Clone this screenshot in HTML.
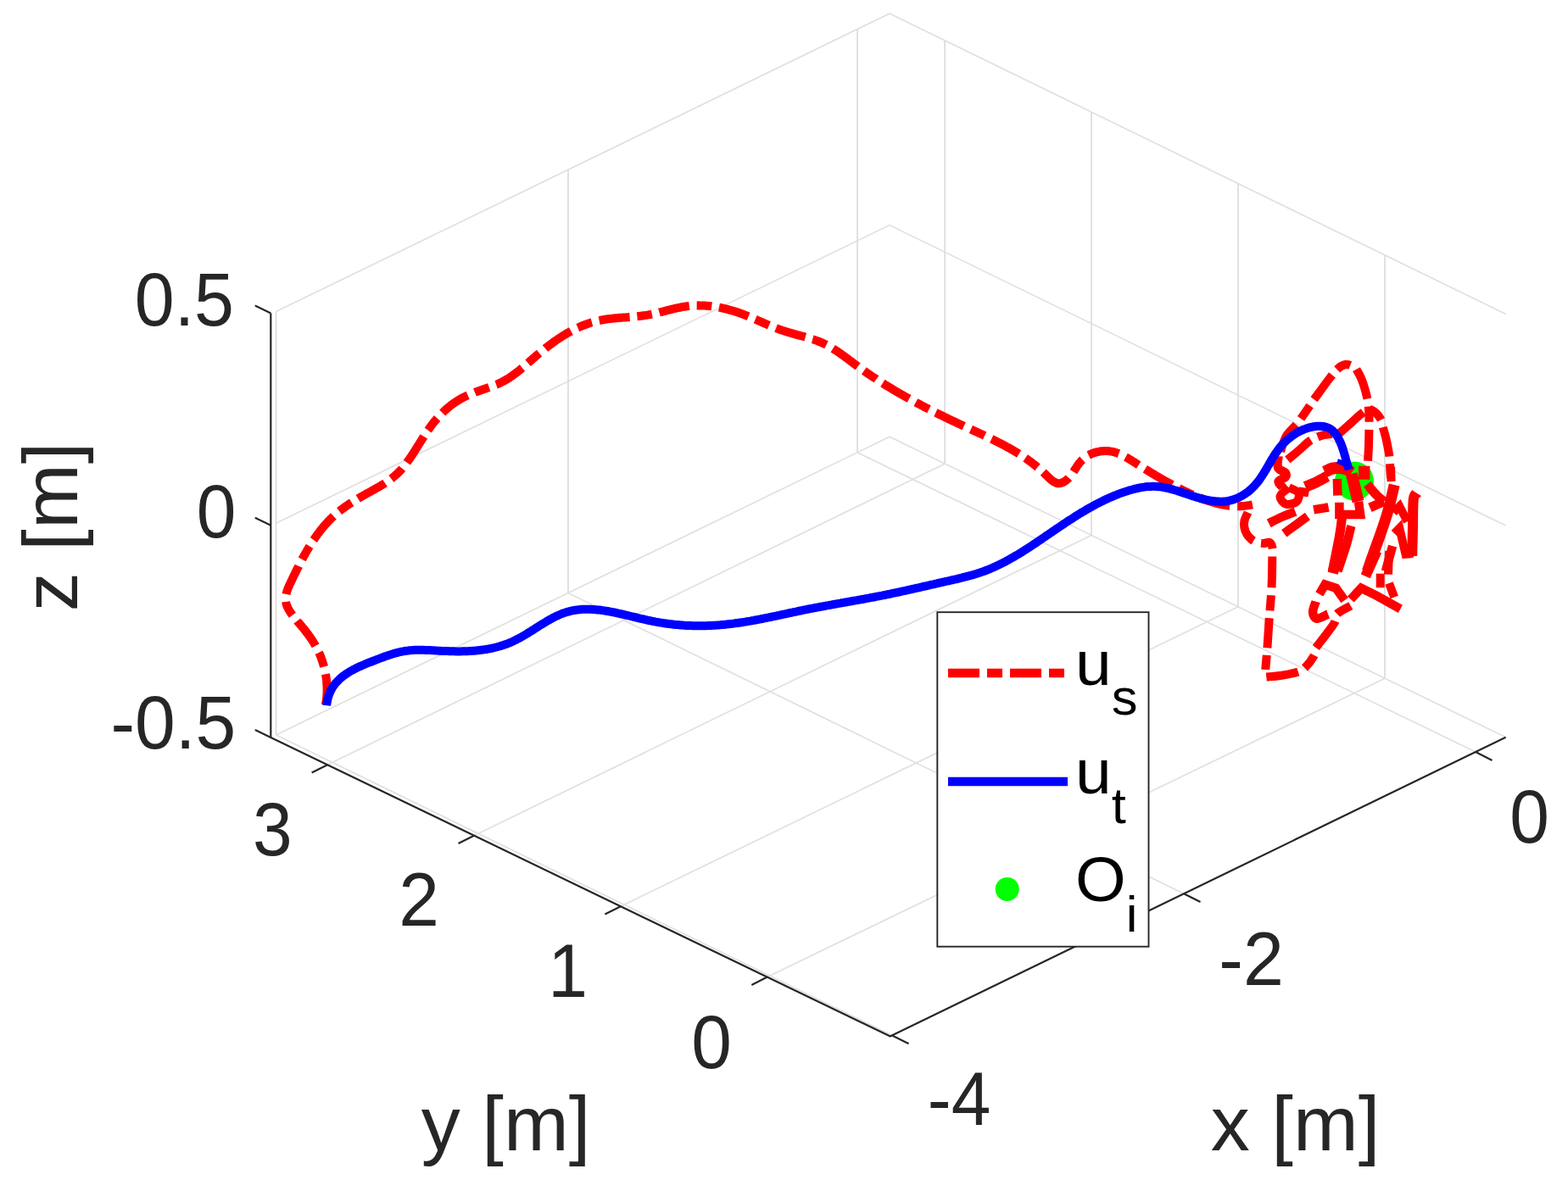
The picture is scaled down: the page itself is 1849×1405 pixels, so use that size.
<!DOCTYPE html>
<html lang="en">
<head>
<meta charset="utf-8">
<title>Trajectories u_s, u_t and O_i</title>
<style>
html,body{margin:0;padding:0;background:#ffffff;overflow:hidden}
svg{display:block}
text{font-family:"Liberation Sans","DejaVu Sans",sans-serif;}
</style>
</head>
<body>
<svg width="1849" height="1405" viewBox="0 0 1849 1405">
<rect x="0" y="0" width="1849" height="1405" fill="#ffffff"/>
<g id="grid">
<polyline fill="none" stroke="#e0e0e0" stroke-width="1.7" points="325.5,866.9 1049.0,515.3 1775.6,869.8"/>
<polyline fill="none" stroke="#e0e0e0" stroke-width="1.7" points="325.5,617.2 1049.0,265.6 1775.6,620.1"/>
<polyline fill="none" stroke="#e0e0e0" stroke-width="1.7" points="325.5,367.6 1049.0,16.0 1775.6,370.5"/>
<line x1="325.5" y1="866.9" x2="325.5" y2="367.6" stroke="#dcdcdc" stroke-width="1.7" />
<line x1="670.0" y1="699.5" x2="670.0" y2="200.2" stroke="#dcdcdc" stroke-width="1.7" />
<line x1="1011.0" y1="533.8" x2="1011.0" y2="34.5" stroke="#dcdcdc" stroke-width="1.7" />
<line x1="1114.2" y1="547.1" x2="1114.2" y2="47.8" stroke="#dcdcdc" stroke-width="1.7" />
<line x1="1287.0" y1="631.4" x2="1287.0" y2="132.1" stroke="#dcdcdc" stroke-width="1.7" />
<line x1="1460.0" y1="715.8" x2="1460.0" y2="216.5" stroke="#dcdcdc" stroke-width="1.7" />
<line x1="1633.0" y1="800.2" x2="1633.0" y2="300.9" stroke="#dcdcdc" stroke-width="1.7" />
<line x1="325.5" y1="866.9" x2="1052.0" y2="1221.5" stroke="#e0e0e0" stroke-width="1.7" />
<line x1="670.0" y1="699.5" x2="1396.0" y2="1054.3" stroke="#e0e0e0" stroke-width="1.7" />
<line x1="1011.0" y1="533.8" x2="1740.0" y2="887.1" stroke="#e0e0e0" stroke-width="1.7" />
<line x1="386.1" y1="902.2" x2="1114.2" y2="547.1" stroke="#e0e0e0" stroke-width="1.7" />
<line x1="559.0" y1="985.7" x2="1287.0" y2="631.4" stroke="#e0e0e0" stroke-width="1.7" />
<line x1="731.9" y1="1069.2" x2="1460.0" y2="715.8" stroke="#e0e0e0" stroke-width="1.7" />
<line x1="904.8" y1="1152.6" x2="1633.0" y2="800.2" stroke="#e0e0e0" stroke-width="1.7" />
</g>
<g id="axes" stroke-linecap="butt">
<line x1="319.3" y1="369.4" x2="319.3" y2="870.8" stroke="#262626" stroke-width="2.2" />
<polyline fill="none" stroke="#262626" stroke-width="2.2" stroke-linejoin="miter" points="319.3,870.0 1049.7,1222.6 1775.6,869.8"/>
<line x1="319.3" y1="870.0" x2="300.8" y2="861.1" stroke="#262626" stroke-width="2.2" />
<line x1="319.3" y1="619.7" x2="300.8" y2="610.8" stroke="#262626" stroke-width="2.2" />
<line x1="319.3" y1="369.4" x2="300.8" y2="360.5" stroke="#262626" stroke-width="2.2" />
<line x1="386.1" y1="902.2" x2="367.6" y2="911.5" stroke="#262626" stroke-width="2.2" />
<line x1="559.0" y1="985.7" x2="540.5" y2="995.0" stroke="#262626" stroke-width="2.2" />
<line x1="731.9" y1="1069.2" x2="713.4" y2="1078.5" stroke="#262626" stroke-width="2.2" />
<line x1="904.8" y1="1152.6" x2="886.3" y2="1161.9" stroke="#262626" stroke-width="2.2" />
<line x1="1052.0" y1="1221.5" x2="1071.5" y2="1231.3" stroke="#262626" stroke-width="2.2" />
<line x1="1396.0" y1="1054.3" x2="1415.5" y2="1064.1" stroke="#262626" stroke-width="2.2" />
<line x1="1740.0" y1="887.1" x2="1759.5" y2="896.9" stroke="#262626" stroke-width="2.2" />
</g>
<g id="curves">
<circle cx="1597.0" cy="567.5" r="23" fill="#00ff00"/>
<path d="M383.8,831.5L384.1,830.0L384.4,828.5L384.6,827.1L384.8,825.6L385.0,824.1L385.2,822.6L385.3,821.1L385.4,819.6L385.5,818.1L385.6,816.6L385.6,815.1L385.6,813.6L385.6,812.1L385.6,810.6L385.5,809.1L385.4,807.6L385.3,806.1L385.2,804.6L385.1,803.1L384.9,801.6L384.7,800.1L384.5,798.6L384.3,797.2L384.0,795.7L383.7,794.2L383.5,792.7L383.1,791.3L382.8,789.8L382.5,788.3L382.1,786.9L381.7,785.4L381.3,784.0L380.9,782.5L380.4,781.1L380.0,779.7L379.5,778.3L379.0,776.9L378.5,775.4L377.9,774.0L377.4,772.7L376.8,771.3L376.2,769.9L375.5,768.5L374.9,767.2L374.2,765.8L373.5,764.5L372.8,763.2L372.1,761.9L371.4,760.6L370.6,759.3L369.8,758.0L369.0,756.7L368.2,755.4L367.4,754.2L366.6,752.9L365.7,751.7L364.8,750.5L364.0,749.3L363.1,748.1L362.2,746.9L361.3,745.7L360.3,744.5L359.4,743.3L358.5,742.1L357.5,741.0L356.6,739.8L355.6,738.7L354.6,737.5L353.7,736.4L352.7,735.2L351.7,734.1L350.7,733.0L349.8,731.8L348.8,730.7L347.8,729.5L346.9,728.3L346.0,727.2L345.1,726.0L344.2,724.8L343.3,723.5L342.4,722.3L341.6,721.0L340.9,719.8L340.1,718.4L339.4,717.1L338.8,715.7L338.2,714.4L337.8,712.9L337.4,711.5L337.1,710.0L336.9,708.5L336.8,707.0L336.8,705.5L337.0,704.0L337.2,702.5L337.5,701.1L337.8,699.6L338.2,698.2L338.7,696.7L339.2,695.3L339.7,693.9L340.3,692.5L340.9,691.2L341.5,689.8L342.1,688.4L342.8,687.1L343.4,685.7L344.1,684.4L344.7,683.0L345.3,681.7L346.0,680.3L346.6,678.9L347.3,677.6L348.0,676.2L348.6,674.9L349.3,673.5L349.9,672.2L350.6,670.9L351.3,669.5L352.0,668.2L352.6,666.8L353.3,665.5L354.0,664.2L354.7,662.8L355.4,661.5L356.1,660.2L356.8,658.9L357.5,657.5L358.2,656.2L359.0,654.9L359.7,653.6L360.4,652.3L361.2,651.0L361.9,649.7L362.7,648.4L363.4,647.1L364.2,645.8L365.0,644.5L365.8,643.2L366.6,642.0L367.4,640.7L368.2,639.4L369.0,638.2L369.8,636.9" pathLength="219.00" fill="none" stroke="#ff0000" stroke-width="10" stroke-dasharray="37 9 18 9" stroke-linejoin="round"/>
<path d="M369.8,636.9L370.7,635.7L371.5,634.5L372.4,633.2L373.3,632.0L374.1,630.8L375.0,629.6L375.9,628.4L376.8,627.2L377.7,626.0L378.7,624.8L379.6,623.6L380.6,622.5L381.5,621.3L382.5,620.2L383.5,619.0L384.5,617.9L385.5,616.8L386.5,615.7L387.5,614.6L388.6,613.5L389.6,612.5L390.7,611.4L391.8,610.4L392.9,609.3L394.0,608.3L395.1,607.3L396.2,606.3L397.4,605.4L398.5,604.4L399.7,603.4L400.9,602.5L402.0,601.6L403.2,600.7L404.4,599.8L405.7,598.9L406.9,598.0L408.1,597.2L409.3,596.3L410.6,595.5L411.8,594.6L413.1,593.8L414.3,593.0L415.6,592.2L416.9,591.4L418.2,590.6L419.4,589.8L420.7,589.1L422.0,588.3L423.3,587.5L424.6,586.8L425.9,586.0L427.2,585.3L428.5,584.5L429.8,583.8L431.1,583.1L432.4,582.3L433.8,581.6L435.1,580.9L436.4,580.2L437.7,579.4L439.0,578.7L440.3,578.0L441.6,577.2L442.9,576.5L444.3,575.8L445.6,575.0L446.9,574.3L448.1,573.5L449.4,572.7L450.7,572.0L452.0,571.2L453.3,570.4L454.5,569.6L455.8,568.7L457.0,567.9L458.2,567.0L459.5,566.2L460.7,565.3L461.9,564.4L463.0,563.4L464.2,562.5L465.4,561.5L466.5,560.5L467.6,559.5L468.7,558.5L469.8,557.4L470.8,556.4L471.8,555.3L472.9,554.2L473.9,553.0L474.8,551.9L475.8,550.8L476.8,549.6L477.7,548.4L478.6,547.2L479.5,546.1L480.4,544.8L481.3,543.6L482.2,542.4L483.0,541.2L483.9,539.9L484.7,538.7L485.6,537.5L486.4,536.2L487.2,534.9L488.0,533.7L488.8,532.4L489.6,531.2L490.4,529.9L491.2,528.6L492.0,527.3L492.8,526.1L493.6,524.8L494.4,523.5L495.2,522.2L496.0,521.0L496.8,519.7L497.6,518.4L498.4,517.1L499.2,515.9L500.0,514.6L500.8,513.3L501.6,512.1L502.4,510.8L503.3,509.6L504.1,508.3L505.0,507.1L505.8,505.9L506.7,504.7L507.6,503.4L508.5,502.2L509.4,501.0L510.3,499.8L511.2,498.7L512.1,497.5L513.1,496.3L514.1,495.2L515.0,494.0L516.0,492.9L517.0,491.8L518.1,490.7L519.1,489.6L520.1,488.5L521.2,487.5L522.3,486.4L523.4,485.4L524.5,484.4L525.6,483.3L526.7,482.3L527.8,481.4L529.0,480.4L530.1,479.5L531.3,478.5L532.5,477.6L533.7,476.7L534.9,475.8L536.2,475.0L537.4,474.1L538.7,473.3L539.9,472.5L541.2,471.7L542.5,471.0L543.8,470.2L545.1,469.5L546.4,468.8L547.8,468.1L549.1,467.5L550.5,466.8L551.9,466.2L553.2,465.6L554.6,465.0L556.0,464.5L557.4,463.9L558.8,463.4L560.2,462.8L561.6,462.3L563.0,461.8L564.4,461.3L565.9,460.8L567.3,460.3L568.7,459.8L570.1,459.3L571.5,458.8L572.9,458.3L574.4,457.8L575.8,457.3L577.2,456.8L578.6,456.3L580.0,455.8L581.4,455.2L582.8,454.7L584.2,454.1L585.6,453.6L587.0,453.0L588.3,452.4L589.7,451.7L591.0,451.1L592.4,450.4L593.7,449.7L595.0,449.0L596.3,448.2L597.6,447.5L598.9,446.7L600.2,445.9L601.4,445.1L602.7,444.2L603.9,443.4L605.1,442.5L606.3,441.6L607.5,440.7L608.7,439.8L609.9,438.9L611.1,438.0L612.3,437.0L613.4,436.1L614.6,435.1L615.7,434.1L616.9,433.2L618.0,432.2L619.2,431.2L620.3,430.2L621.4,429.2L622.5,428.3L623.7,427.3L624.8,426.3L625.9,425.3L627.1,424.3L628.2,423.3L629.3,422.3L630.5,421.3L631.6,420.4L632.7,419.4L633.9,418.4L635.0,417.5L636.2,416.5L637.3,415.5L638.5,414.6L639.7,413.6L640.8,412.7L642.0,411.8L643.2,410.8L644.4,409.9L645.6,409.0L646.7,408.1L647.9,407.2L649.1,406.3L650.4,405.4L651.6,404.5L652.8,403.6L654.0,402.7L655.2,401.9L656.5,401.0L657.7,400.2L659.0,399.3L660.2,398.5L661.5,397.7L662.7,396.9L664.0,396.1L665.3,395.3L666.6,394.5L667.8,393.7L669.1,393.0L670.4,392.2L671.8,391.5L673.1,390.8L674.4,390.1L675.7,389.4L677.1,388.7L678.4,388.0L679.8,387.4L681.1,386.7L682.5,386.1L683.9,385.5L685.2,384.9L686.6,384.3L688.0,383.8L689.4,383.2L690.8,382.7L692.2,382.2L693.6,381.7L695.1,381.2L696.5,380.7L697.9,380.3L699.4,379.9L700.8,379.5L702.3,379.1L703.7,378.7L705.2,378.4L706.6,378.1" pathLength="438.00" fill="none" stroke="#ff0000" stroke-width="10" stroke-dasharray="37 9 18 9" stroke-linejoin="round"/>
<path d="M706.6,378.1L708.1,377.8L709.6,377.5L711.1,377.2L712.5,377.0L714.0,376.7L715.5,376.5L717.0,376.3L718.5,376.1L720.0,375.9L721.5,375.8L723.0,375.6L724.5,375.5L725.9,375.3L727.4,375.2L728.9,375.1L730.4,375.0L731.9,374.8L733.4,374.7L734.9,374.6L736.4,374.5L737.9,374.4L739.4,374.3L740.9,374.2L742.4,374.0L743.9,373.9L745.4,373.8L746.9,373.7L748.4,373.5L749.9,373.4L751.4,373.2L752.9,373.1L754.4,372.9L755.8,372.7L757.3,372.5L758.8,372.3L760.3,372.1L761.8,371.9L763.3,371.6L764.7,371.4L766.2,371.1L767.7,370.8L769.2,370.5L770.6,370.2L772.1,369.8L773.6,369.5L775.0,369.1L776.5,368.8L777.9,368.4L779.4,368.1L780.8,367.7L782.3,367.3L783.8,367.0L785.2,366.6L786.7,366.2L788.1,365.8L789.6,365.5L791.0,365.1L792.5,364.7L793.9,364.4L795.4,364.0L796.9,363.7L798.3,363.4L799.8,363.1L801.3,362.8L802.7,362.5L804.2,362.2L805.7,361.9L807.2,361.7L808.7,361.5L810.1,361.3L811.6,361.1L813.1,360.9L814.6,360.8L816.1,360.6L817.6,360.5L819.1,360.5L820.6,360.4L822.1,360.4L823.6,360.3L825.1,360.4L826.6,360.4L828.1,360.4L829.6,360.5L831.1,360.6L832.6,360.7L834.1,360.8L835.6,360.9L837.1,361.1L838.6,361.2L840.1,361.4L841.6,361.6L843.0,361.8L844.5,362.1L846.0,362.3L847.5,362.6L849.0,362.9L850.4,363.2L851.9,363.5L853.4,363.8L854.8,364.2L856.3,364.5L857.7,364.9L859.2,365.3L860.6,365.7L862.1,366.1L863.5,366.5L865.0,366.9L866.4,367.4L867.8,367.8L869.2,368.3L870.7,368.8L872.1,369.3L873.5,369.8L874.9,370.3L876.3,370.8L877.7,371.4L879.1,371.9L880.5,372.5L881.9,373.0L883.3,373.6L884.7,374.2L886.1,374.8L887.4,375.3L888.8,375.9L890.2,376.5L891.6,377.1L893.0,377.7L894.3,378.3L895.7,378.9L897.1,379.5L898.5,380.1L899.8,380.7L901.2,381.3L902.6,381.9L904.0,382.5L905.3,383.1L906.7,383.7L908.1,384.3L909.5,384.8L910.9,385.4L912.3,386.0L913.7,386.5L915.1,387.1L916.5,387.6L917.9,388.1L919.3,388.6L920.7,389.2L922.1,389.6L923.5,390.1L925.0,390.6L926.4,391.1L927.8,391.5L929.3,391.9L930.7,392.4L932.1,392.8L933.6,393.2L935.0,393.6L936.5,394.0L937.9,394.4L939.4,394.8L940.8,395.2L942.3,395.6L943.7,396.0L945.2,396.4L946.6,396.7L948.1,397.1L949.5,397.6L951.0,398.0L952.4,398.4L953.8,398.8L955.3,399.2L956.7,399.7L958.1,400.2L959.6,400.6L961.0,401.1L962.4,401.6L963.8,402.1L965.2,402.7L966.6,403.2L968.0,403.8L969.4,404.4L970.7,405.0L972.1,405.7L973.4,406.3L974.8,407.0L976.1,407.7L977.4,408.4L978.7,409.2L980.0,409.9L981.3,410.7L982.6,411.5L983.9,412.3L985.1,413.1L986.4,413.9L987.6,414.7L988.9,415.6L990.1,416.4L991.3,417.3L992.5,418.2L993.8,419.0L995.0,419.9L996.2,420.8L997.4,421.7L998.6,422.6L999.8,423.5L1001.0,424.4L1002.2,425.3L1003.4,426.2L1004.6,427.1L1005.8,428.0L1007.0,428.9L1008.2,429.8L1009.4,430.7L1010.6,431.6L1011.8,432.5L1013.1,433.3L1014.3,434.2L1015.5,435.1L1016.7,436.0L1017.9,436.8L1019.2,437.7L1020.4,438.5L1021.6,439.4L1022.9,440.3L1024.1,441.1L1025.4,441.9L1026.6,442.8L1027.8,443.6L1029.1,444.5L1030.3,445.3L1031.6,446.1L1032.9,446.9L1034.1,447.8L1035.4,448.6L1036.6,449.4L1037.9,450.2L1039.2,451.0L1040.4,451.8L1041.7,452.6L1043.0,453.4L1044.3,454.2L1045.5,455.0L1046.8,455.7L1048.1,456.5L1049.4,457.3L1050.7,458.1L1052.0,458.9L1053.2,459.6L1054.5,460.4L1055.8,461.2L1057.1,461.9L1058.4,462.7L1059.7,463.4L1061.0,464.2L1062.3,464.9L1063.6,465.7L1064.9,466.4L1066.2,467.1L1067.5,467.9L1068.9,468.6L1070.2,469.3L1071.5,470.1L1072.8,470.8L1074.1,471.5L1075.4,472.2L1076.7,472.9L1078.1,473.7L1079.4,474.4L1080.7,475.1L1082.0,475.8L1083.4,476.5L1084.7,477.2L1086.0,477.9L1087.3,478.6L1088.7,479.3L1090.0,480.0L1091.3,480.7L1092.7,481.4L1094.0,482.0L1095.3,482.7L1096.7,483.4L1098.0,484.1L1099.4,484.8L1100.7,485.4L1102.0,486.1L1103.4,486.8" pathLength="438.00" fill="none" stroke="#ff0000" stroke-width="10" stroke-dasharray="37 9 18 9" stroke-linejoin="round"/>
<path d="M1103.4,486.8L1104.7,487.4L1106.1,488.1L1107.4,488.8L1108.8,489.4L1110.1,490.1L1111.5,490.7L1112.8,491.4L1114.2,492.1L1115.5,492.7L1116.9,493.4L1118.2,494.0L1119.6,494.7L1120.9,495.3L1122.3,496.0L1123.6,496.6L1125.0,497.2L1126.4,497.9L1127.7,498.5L1129.1,499.2L1130.4,499.8L1131.8,500.4L1133.2,501.1L1134.5,501.7L1135.9,502.3L1137.2,502.9L1138.6,503.6L1140.0,504.2L1141.3,504.8L1142.7,505.5L1144.1,506.1L1145.4,506.7L1146.8,507.3L1148.2,508.0L1149.5,508.6L1150.9,509.2L1152.2,509.8L1153.6,510.5L1155.0,511.1L1156.3,511.7L1157.7,512.4L1159.1,513.0L1160.4,513.6L1161.8,514.3L1163.1,514.9L1164.5,515.5L1165.8,516.2L1167.2,516.8L1168.6,517.5L1169.9,518.1L1171.2,518.8L1172.6,519.5L1173.9,520.1L1175.3,520.8L1176.6,521.5L1178.0,522.2L1179.3,522.8L1180.6,523.5L1182.0,524.2L1183.3,524.9L1184.6,525.6L1185.9,526.3L1187.3,527.1L1188.6,527.8L1189.9,528.5L1191.2,529.3L1192.5,530.0L1193.8,530.7L1195.1,531.5L1196.4,532.3L1197.7,533.0L1199.0,533.8L1200.2,534.6L1201.5,535.4L1202.8,536.2L1204.0,537.0L1205.3,537.8L1206.5,538.6L1207.8,539.5L1209.0,540.3L1210.3,541.2L1211.5,542.0L1212.7,542.9L1213.9,543.8L1215.2,544.7L1216.4,545.6L1217.6,546.5L1218.7,547.4L1219.9,548.3L1221.1,549.3L1222.3,550.2L1223.4,551.2L1224.6,552.1L1225.7,553.1L1226.8,554.1L1228.0,555.1L1229.1,556.1L1230.2,557.1L1231.3,558.1L1232.4,559.2L1233.5,560.2L1234.5,561.2L1235.6,562.3L1236.7,563.4L1237.7,564.4L1238.9,565.4L1240.0,566.4L1241.2,567.3L1242.4,568.2L1243.7,568.9L1245.1,569.5L1246.5,570.0L1248.0,570.2L1249.5,570.2L1251.0,569.9L1252.4,569.4L1253.8,568.8L1255.1,568.1L1256.3,567.3L1257.5,566.4L1258.7,565.4L1259.8,564.4L1260.8,563.3L1261.8,562.2L1262.8,561.0L1263.7,559.8L1264.6,558.6L1265.4,557.4L1266.2,556.1L1267.0,554.8L1267.8,553.6L1268.6,552.3L1269.4,551.0L1270.2,549.8L1271.1,548.5L1272.0,547.3L1272.9,546.1L1273.9,545.0L1274.9,543.9L1275.9,542.8L1277.0,541.8L1278.1,540.8L1279.3,539.8L1280.5,538.9L1281.8,538.1L1283.0,537.3L1284.4,536.6L1285.7,535.9L1287.1,535.3L1288.5,534.8L1289.9,534.3L1291.3,533.8L1292.8,533.4L1294.2,533.1L1295.7,532.8L1297.2,532.5L1298.6,532.3L1300.1,532.2L1301.6,532.1L1303.1,532.0L1304.6,532.0L1306.1,532.1L1307.6,532.2L1309.1,532.4L1310.6,532.6L1312.1,532.9L1313.5,533.3L1315.0,533.7L1316.4,534.1L1317.8,534.6L1319.2,535.2L1320.6,535.7L1322.0,536.3L1323.3,537.0L1324.7,537.7L1326.0,538.4L1327.3,539.1L1328.6,539.8L1329.9,540.6L1331.2,541.4L1332.5,542.1L1333.8,542.9L1335.0,543.7L1336.3,544.5L1337.6,545.3L1338.9,546.1L1340.1,546.9L1341.4,547.7L1342.7,548.5L1343.9,549.3L1345.2,550.1L1346.5,550.9L1347.8,551.7L1349.0,552.5L1350.3,553.3L1351.6,554.1L1352.9,554.9L1354.1,555.6L1355.4,556.4L1356.7,557.2L1358.0,558.0L1359.3,558.8L1360.6,559.5L1361.9,560.3L1363.1,561.1L1364.4,561.8L1365.7,562.6L1367.0,563.4L1368.3,564.1L1369.6,564.9L1370.9,565.6L1372.2,566.4L1373.5,567.1L1374.8,567.8L1376.1,568.6L1377.5,569.3L1378.8,570.0L1380.1,570.7L1381.4,571.4L1382.7,572.2L1384.1,572.9L1385.4,573.6L1386.7,574.3L1388.1,574.9L1389.4,575.6L1390.7,576.3L1392.1,577.0L1393.4,577.7L1394.8,578.3L1396.1,579.0L1397.5,579.6L1398.8,580.3L1400.2,580.9L1401.5,581.5L1402.9,582.1L1404.3,582.8L1405.7,583.4L1407.0,584.0L1408.4,584.6L1409.8,585.1L1411.2,585.7L1412.6,586.3L1414.0,586.9L1415.3,587.4L1416.7,588.0L1418.1,588.5L1419.6,589.0L1421.0,589.5L1422.4,590.0L1423.8,590.5L1425.2,591.0L1426.6,591.5L1428.1,591.9L1429.5,592.4L1430.9,592.8L1432.4,593.2L1433.8,593.6L1435.3,594.0L1436.7,594.3L1438.2,594.7L1439.7,595.0L1441.1,595.3L1442.6,595.6L1444.1,595.9L1445.6,596.1L1447.1,596.3L1448.6,596.5L1450.0,596.7L1451.5,596.8L1453.0,597.0L1454.5,597.1L1456.0,597.1L1457.5,597.2L1459.0,597.2L1460.5,597.2L1462.0,597.2L1463.5,597.1L1465.0,597.0L1466.5,596.9L1468.0,596.7L1469.5,596.6L1471.0,596.4L1472.5,596.1L1474.0,595.9L1475.4,595.6L1476.9,595.3" pathLength="429.00" fill="none" stroke="#ff0000" stroke-width="10" stroke-dasharray="37 9 18 9" stroke-linejoin="round"/>
<path d="M1471.5,604.5C1470.8,606.1 1468.2,611.1 1467.5,614.0C1466.8,616.9 1466.8,619.2 1467.3,622.0C1467.8,624.8 1469.0,628.1 1470.5,630.5C1472.0,632.9 1474.0,634.9 1476.0,636.5C1478.0,638.1 1480.2,639.2 1482.5,640.0C1484.8,640.8 1487.5,641.0 1490.0,641.0C1492.5,641.0 1495.7,639.0 1497.5,640.0C1499.3,641.0 1500.1,644.2 1500.6,647.0C1501.1,649.8 1500.3,654.9 1500.3,656.5" pathLength="73.00" fill="none" stroke="#ff0000" stroke-width="10" stroke-dasharray="37 9 18 9" stroke-linejoin="round"/>
<path d="M1500.3,656.5C1500.2,662.6 1500.1,680.9 1499.5,693.0C1498.9,705.1 1497.2,723.1 1496.7,729.1" pathLength="73.00" fill="none" stroke="#ff0000" stroke-width="10" stroke-dasharray="37 9 18 9" stroke-linejoin="round"/>
<path d="M1496.7,729.1C1496.3,735.2 1495.0,755.9 1494.3,766.0C1493.6,776.1 1492.5,784.6 1492.3,790.0C1492.1,795.4 1493.1,797.1 1493.3,798.5" pathLength="73.00" fill="none" stroke="#ff0000" stroke-width="10" stroke-dasharray="37 9 18 9" stroke-linejoin="round"/>
<path d="M1493.3,798.5C1496.1,798.2 1503.7,798.0 1510.0,797.0C1516.3,796.0 1526.2,794.0 1531.0,792.4C1535.8,790.8 1535.9,790.7 1539.0,787.5C1542.1,784.3 1547.5,777.2 1549.6,773.3C1551.7,769.4 1551.3,765.6 1551.7,764.1" pathLength="73.00" fill="none" stroke="#ff0000" stroke-width="10" stroke-dasharray="37 9 18 9" stroke-linejoin="round"/>
<path d="M1551.7,764.1C1555.3,759.3 1569.1,741.9 1573.2,735.3C1577.3,728.7 1573.0,727.9 1576.3,724.5C1579.6,721.1 1590.0,716.3 1592.8,714.7" pathLength="64.00" fill="none" stroke="#ff0000" stroke-width="10" stroke-dasharray="37 9 18 9" stroke-linejoin="round"/>
<path d="M1510.0,532.5C1511.2,529.4 1513.5,519.8 1517.0,514.0C1520.5,508.2 1525.6,505.1 1531.0,498.0C1536.4,490.9 1546.5,475.7 1549.6,471.2" pathLength="73.00" fill="none" stroke="#ff0000" stroke-width="10" stroke-dasharray="37 9 18 9" stroke-linejoin="round"/>
<path d="M1549.6,471.2C1552.7,467.0 1563.3,452.1 1568.1,446.0C1572.8,439.9 1575.0,437.2 1578.1,434.5C1581.2,431.8 1584.0,430.5 1586.7,430.0C1589.4,429.5 1591.9,430.6 1594.0,431.5C1596.1,432.4 1598.6,434.9 1599.5,435.6" pathLength="73.00" fill="none" stroke="#ff0000" stroke-width="10" stroke-dasharray="37 9 18 9" stroke-linejoin="round"/>
<path d="M1599.5,435.6C1600.4,437.3 1603.3,442.1 1605.0,446.0C1606.7,449.9 1608.2,454.3 1609.5,459.0C1610.8,463.7 1612.2,468.8 1613.0,474.0C1613.8,479.2 1614.2,484.5 1614.4,490.0C1614.6,495.5 1614.4,504.0 1614.4,506.8" pathLength="73.00" fill="none" stroke="#ff0000" stroke-width="10" stroke-dasharray="37 9 18 9" stroke-linejoin="round"/>
<path d="M1614.4,506.8C1614.3,509.8 1614.2,518.8 1614.0,525.0C1613.8,531.2 1613.2,540.7 1613.0,543.8" pathLength="37.00" fill="none" stroke="#ff0000" stroke-width="10" stroke-dasharray="37 9 18 9" stroke-linejoin="round"/>
<path d="M1518.3,542.4C1520.6,540.5 1527.5,534.8 1532.0,531.0C1536.5,527.2 1540.8,522.5 1545.4,519.6C1550.0,516.7 1555.5,514.8 1559.6,513.5C1563.7,512.2 1566.7,512.4 1570.0,512.0C1573.3,511.6 1577.9,511.2 1579.5,511.1" pathLength="73.00" fill="none" stroke="#ff0000" stroke-width="10" stroke-dasharray="37 9 18 9" stroke-linejoin="round"/>
<path d="M1579.5,511.1C1581.6,509.2 1587.7,503.8 1592.0,500.0C1596.3,496.2 1601.4,491.2 1605.2,488.3C1609.0,485.4 1612.0,482.8 1615.1,482.8C1618.2,482.8 1621.4,486.1 1623.7,488.3C1626.0,490.5 1627.8,493.4 1629.0,496.0C1630.2,498.6 1630.5,502.7 1630.8,504.0" pathLength="73.00" fill="none" stroke="#ff0000" stroke-width="10" stroke-dasharray="37 9 18 9" stroke-linejoin="round"/>
<path d="M1630.8,504.0C1631.5,506.7 1633.8,514.3 1635.0,520.0C1636.2,525.7 1637.5,531.9 1638.3,538.0C1639.0,544.1 1639.1,550.8 1639.5,556.6C1639.9,562.4 1640.6,570.0 1640.8,572.7" pathLength="73.00" fill="none" stroke="#ff0000" stroke-width="10" stroke-dasharray="37 9 18 9" stroke-linejoin="round"/>
<path d="M1507.5,538.2C1507.4,540.4 1505.6,548.3 1507.0,551.6C1508.3,554.8 1514.2,555.9 1515.7,557.7C1517.1,559.6 1517.1,561.2 1515.7,562.9C1514.3,564.6 1508.0,566.0 1507.5,568.0C1507.0,570.1 1511.8,574.0 1512.6,575.2" fill="none" stroke="#ff0000" stroke-width="10.5" stroke-linejoin="miter"/>
<path d="M1519.8,575.2C1521.7,576.2 1529.6,578.6 1531.1,581.4C1532.7,584.1 1531.5,589.4 1529.1,591.7C1526.7,593.9 1520.0,595.8 1516.7,594.7C1513.5,593.7 1509.0,588.8 1509.5,585.5C1510.0,582.2 1518.1,576.9 1519.8,575.2" fill="none" stroke="#ff0000" stroke-width="10" stroke-linejoin="miter"/>
<path d="M1531.1,579.3C1533.2,579.7 1541.4,581.0 1543.4,581.4" fill="none" stroke="#ff0000" stroke-width="10" stroke-linejoin="miter"/>
<path d="M1539.3,574.2C1541.4,573.3 1547.4,571.1 1551.7,569.1C1555.9,567.0 1562.8,563.1 1565.0,561.9" fill="none" stroke="#ff0000" stroke-width="13" stroke-linejoin="miter"/>
<path d="M1561.9,556.7C1563.5,556.0 1568.1,553.4 1571.2,552.6C1574.3,551.8 1577.5,551.8 1580.4,552.1C1583.4,552.4 1586.4,553.2 1588.7,554.2C1590.9,555.1 1592.9,557.1 1593.8,557.7" fill="none" stroke="#ff0000" stroke-width="14" stroke-linejoin="miter"/>
<path d="M1549.1,601.4C1552.0,600.9 1563.7,598.9 1566.6,598.3" fill="none" stroke="#ff0000" stroke-width="10.5" stroke-linejoin="miter"/>
<path d="M1496.2,617.4C1498.6,616.2 1505.3,612.5 1510.6,610.2C1515.8,607.9 1524.7,604.6 1527.5,603.5" fill="none" stroke="#ff0000" stroke-width="10.5" stroke-linejoin="miter"/>
<path d="M1514.2,629.2C1518.8,625.8 1537.3,612.5 1541.9,609.1" fill="none" stroke="#ff0000" stroke-width="10.5" stroke-linejoin="miter"/>
<path d="M1576.8,564.9C1576.9,568.2 1577.3,581.2 1577.4,584.5" fill="none" stroke="#ff0000" stroke-width="10.5" stroke-linejoin="miter"/>
<path d="M1593.8,558.8C1594.5,561.7 1596.6,570.8 1597.9,576.2C1599.2,581.7 1600.9,589.1 1601.5,591.7" fill="none" stroke="#ff0000" stroke-width="14" stroke-linejoin="miter"/>
<path d="M1602.0,557.7L1615.4,557.7" fill="none" stroke="#ff0000" stroke-width="16" stroke-linejoin="miter"/>
<path d="M1579.4,592.7L1579.4,607.1L1604.1,607.1L1602.0,591.7" fill="none" stroke="#ff0000" stroke-width="10.5" stroke-linejoin="miter"/>
<path d="M1582.5,610.2C1582.0,613.9 1581.3,622.2 1579.4,632.8C1577.5,643.4 1572.6,667.0 1571.2,673.9" fill="none" stroke="#ff0000" stroke-width="11" stroke-linejoin="miter"/>
<path d="M1593.3,620.4C1592.3,624.2 1590.3,634.1 1587.6,643.1C1585.0,652.0 1579.1,668.7 1577.4,673.9" fill="none" stroke="#ff0000" stroke-width="10.5" stroke-linejoin="miter"/>
<path d="M1612.3,571.1C1614.0,573.2 1619.3,580.0 1622.6,583.4C1625.8,586.9 1630.3,590.3 1631.8,591.7" fill="none" stroke="#ff0000" stroke-width="11" stroke-linejoin="miter"/>
<path d="M1615.4,598.9C1618.1,597.7 1629.1,592.9 1631.8,591.7" fill="none" stroke="#ff0000" stroke-width="11" stroke-linejoin="miter"/>
<path d="M1640.1,550.6C1640.1,553.5 1640.5,565.1 1640.6,568.0" fill="none" stroke="#ff0000" stroke-width="10" stroke-linejoin="miter"/>
<path d="M1644.2,572.1C1643.0,577.1 1639.5,592.7 1637.0,601.9C1634.4,611.2 1631.7,619.1 1628.7,627.6C1625.8,636.2 1622.2,645.6 1619.5,653.3C1616.8,661.0 1613.5,670.5 1612.3,673.9" fill="none" stroke="#ff0000" stroke-width="13" stroke-linejoin="miter"/>
<path d="M1643.1,604.5L1650.3,597.3L1659.6,615.3" fill="none" stroke="#ff0000" stroke-width="10" stroke-linejoin="miter"/>
<path d="M1644.2,629.2L1650.3,623.0L1657.5,653.8L1664.7,653.3" fill="none" stroke="#ff0000" stroke-width="10" stroke-linejoin="miter"/>
<path d="M1670.9,581.9C1670.2,583.0 1667.6,581.8 1666.8,588.6C1666.0,595.3 1666.2,611.3 1666.0,622.5C1665.7,633.7 1665.4,650.3 1665.2,655.9" fill="none" stroke="#ff0000" stroke-width="12" stroke-linejoin="miter"/>
<path d="M1642.1,644.1C1640.7,649.0 1635.3,668.9 1633.9,673.9" fill="none" stroke="#ff0000" stroke-width="10.5" stroke-linejoin="miter"/>
<path d="M1578.4,650.0C1577.3,654.4 1572.8,671.8 1571.7,676.2" fill="none" stroke="#ff0000" stroke-width="12.5" stroke-linejoin="miter"/>
<path d="M1623.6,650.0C1621.4,655.0 1612.5,674.8 1610.2,679.8" fill="none" stroke="#ff0000" stroke-width="12" stroke-linejoin="miter"/>
<path d="M1627.7,676.7C1627.7,679.5 1627.7,690.4 1627.7,693.2" fill="none" stroke="#ff0000" stroke-width="10" stroke-linejoin="miter"/>
<path d="M1638.0,650.0C1637.8,654.6 1637.1,673.1 1637.0,677.7" fill="none" stroke="#ff0000" stroke-width="10" stroke-linejoin="miter"/>
<path d="M1638.0,688.0C1639.0,690.8 1643.1,701.7 1644.2,704.5" fill="none" stroke="#ff0000" stroke-width="10" stroke-linejoin="miter"/>
<path d="M1654.4,650.0C1656.7,650.5 1665.6,652.6 1667.8,653.1" fill="none" stroke="#ff0000" stroke-width="10" stroke-linejoin="miter"/>
<path d="M1555.8,700.9L1562.5,689.6L1575.3,693.7L1585.6,708.1" fill="none" stroke="#ff0000" stroke-width="10.5" stroke-linejoin="miter"/>
<path d="M1592.8,707.0L1605.1,693.7L1623.6,702.9L1651.4,718.3" fill="none" stroke="#ff0000" stroke-width="10.5" stroke-linejoin="miter"/>
<path d="M1551.7,709.6C1551.1,711.7 1547.9,718.6 1548.1,721.9C1548.2,725.3 1549.7,729.2 1552.7,729.7C1555.7,730.1 1563.8,725.4 1566.1,724.5" fill="none" stroke="#ff0000" stroke-width="10.5" stroke-linejoin="miter"/>
<path d="M1589.5,548.5L1577.0,544.0" fill="none" stroke="#0000ff" stroke-width="6"/>
<path d="M385.2,832.3L385.4,830.3L385.7,828.3L386.1,826.4L386.5,824.4L387.0,822.5L387.6,820.6L388.3,818.7L389.1,816.8L389.9,815.0L390.8,813.3L391.8,811.5L392.9,809.8L394.1,808.2L395.3,806.6L396.6,805.1L398.0,803.6L399.4,802.2L400.8,800.8L402.3,799.5L403.9,798.2L405.4,797.0L407.1,795.8L408.7,794.7L410.4,793.6L412.1,792.5L413.8,791.5L415.6,790.6L417.3,789.6L419.1,788.7L420.9,787.8L422.7,786.9L424.5,786.1L426.4,785.3L428.2,784.5L430.0,783.7L431.9,782.9L433.7,782.2L435.6,781.4L437.5,780.7L439.3,780.0L441.2,779.3L443.1,778.5L444.9,777.8L446.8,777.1L448.7,776.4L450.6,775.7L452.4,775.0L454.3,774.3L456.2,773.7L458.1,773.0L460.0,772.4L461.9,771.8L463.8,771.2L465.8,770.7L467.7,770.1L469.6,769.6L471.6,769.2L473.5,768.7L475.5,768.4L477.5,768.0L479.4,767.7L481.4,767.5L483.4,767.2L485.4,767.1L487.4,766.9L489.4,766.8L491.4,766.8L493.4,766.8L495.4,766.7L497.4,766.8L499.4,766.8L501.4,766.9L503.4,766.9L505.4,767.0L507.4,767.1L509.4,767.2L511.4,767.3L513.4,767.4L515.4,767.6L517.4,767.7L519.4,767.8L521.4,767.9L523.4,768.0L525.4,768.1L527.4,768.1L529.4,768.2L531.4,768.3L533.4,768.3L535.4,768.3L537.4,768.4L539.4,768.4L541.4,768.4L543.4,768.4L545.4,768.3L547.4,768.3L549.4,768.2L551.4,768.2L553.4,768.1L555.4,768.0L557.4,767.8L559.4,767.7L561.4,767.5L563.4,767.3L565.4,767.1L567.4,766.8L569.4,766.6L571.4,766.3L573.3,766.0L575.3,765.6L577.3,765.3L579.2,764.9L581.2,764.5L583.1,764.0L585.1,763.5L587.0,763.0L588.9,762.5L590.9,761.9L592.8,761.3L594.7,760.6L596.6,760.0L598.4,759.3L600.3,758.5L602.1,757.8L604.0,757.0L605.8,756.1L607.6,755.2L609.4,754.3L611.2,753.4L612.9,752.5L614.7,751.5L616.4,750.5L618.1,749.5L619.9,748.5L621.6,747.4L623.3,746.4L625.0,745.3L626.7,744.3L628.4,743.2L630.1,742.1L631.7,741.1L633.4,740.0L635.1,738.9L636.8,737.8L638.5,736.8L640.2,735.7L641.9,734.7L643.6,733.7L645.4,732.6L647.1,731.6L648.8,730.6L650.6,729.7L652.4,728.7L654.1,727.8L655.9,726.9L657.8,726.1L659.6,725.3L661.4,724.5L663.3,723.7L665.2,723.1L667.1,722.4L669.0,721.8L670.9,721.3L672.8,720.8L674.8,720.4L676.8,720.0L678.7,719.7L680.7,719.4L682.7,719.2L684.7,719.0L686.7,718.8L688.7,718.8L690.7,718.7L692.7,718.7L694.7,718.7L696.7,718.8L698.7,718.9L700.7,719.0L702.7,719.2L704.7,719.4L706.7,719.6L708.7,719.8L710.7,720.1L712.6,720.4L714.6,720.7L716.6,721.0L718.6,721.4L720.5,721.8L722.5,722.1L724.5,722.5L726.4,722.9L728.4,723.4L730.3,723.8L732.3,724.2L734.2,724.7L736.2,725.1L738.1,725.6L740.1,726.0L742.0,726.5L744.0,727.0L745.9,727.5L747.9,727.9L749.8,728.4L751.8,728.9L753.7,729.3L755.6,729.8L757.6,730.2L759.5,730.7L761.5,731.1L763.5,731.6L765.4,732.0L767.4,732.4L769.3,732.8L771.3,733.2L773.3,733.6L775.2,733.9L777.2,734.3L779.2,734.6L781.2,734.9L783.1,735.2L785.1,735.5L787.1,735.8L789.1,736.1L791.1,736.3L793.1,736.5L795.0,736.8L797.0,737.0L799.0,737.1L801.0,737.3L803.0,737.5L805.0,737.6L807.0,737.8L809.0,737.9L811.0,738.0L813.0,738.1L815.0,738.1L817.0,738.2L819.0,738.2L821.0,738.3L823.0,738.3L825.0,738.3L827.0,738.3L829.0,738.3L831.0,738.2L833.0,738.2L835.0,738.1L837.0,738.0L839.0,737.9L841.0,737.8L843.0,737.7L845.0,737.6L847.0,737.4L849.0,737.3L851.0,737.1L853.0,736.9L855.0,736.7L857.0,736.5L859.0,736.3L861.0,736.1L863.0,735.9L864.9,735.6L866.9,735.3L868.9,735.1L870.9,734.8L872.9,734.5L874.9,734.2L876.8,733.9L878.8,733.6L880.8,733.2L882.8,732.9L884.7,732.6L886.7,732.2L888.7,731.9L890.6,731.5L892.6,731.1L894.6,730.8L896.5,730.4L898.5,730.0L900.5,729.6L902.4,729.2L904.4,728.8L906.4,728.4L908.3,728.0L910.3,727.6L912.2,727.2L914.2,726.8L916.2,726.4L918.1,726.0L920.1,725.5L922.0,725.1L924.0,724.7L925.9,724.3L927.9,723.9L929.9,723.4L931.8,723.0L933.8,722.6L935.7,722.2L937.7,721.8L939.7,721.4L941.6,720.9L943.6,720.5L945.5,720.1L947.5,719.7L949.5,719.3L951.4,718.9L953.4,718.5L955.3,718.1L957.3,717.8L959.3,717.4L961.2,717.0L963.2,716.6L965.2,716.3L967.1,715.9L969.1,715.5L971.1,715.2L973.0,714.8L975.0,714.4L977.0,714.1L979.0,713.7L980.9,713.4L982.9,713.0L984.9,712.6L986.8,712.3L988.8,711.9L990.8,711.6L992.7,711.2L994.7,710.9L996.7,710.5L998.7,710.2L1000.6,709.8L1002.6,709.5L1004.6,709.1L1006.5,708.8L1008.5,708.4L1010.5,708.1L1012.5,707.7L1014.4,707.4L1016.4,707.0L1018.4,706.7L1020.3,706.3L1022.3,705.9L1024.3,705.6L1026.2,705.2L1028.2,704.8L1030.2,704.5L1032.1,704.1L1034.1,703.7L1036.1,703.3L1038.0,702.9L1040.0,702.6L1042.0,702.2L1043.9,701.8L1045.9,701.4L1047.9,701.0L1049.8,700.6L1051.8,700.1L1053.7,699.7L1055.7,699.3L1057.6,698.9L1059.6,698.5L1061.6,698.1L1063.5,697.6L1065.5,697.2L1067.4,696.8L1069.4,696.3L1071.3,695.9L1073.3,695.5L1075.2,695.0L1077.2,694.6L1079.2,694.2L1081.1,693.7L1083.1,693.3L1085.0,692.8L1087.0,692.4L1088.9,691.9L1090.9,691.5L1092.8,691.1L1094.8,690.6L1096.7,690.2L1098.7,689.7L1100.6,689.3L1102.6,688.8L1104.5,688.4L1106.5,687.9L1108.4,687.5L1110.4,687.0L1112.3,686.6L1114.3,686.2L1116.2,685.7L1118.2,685.3L1120.1,684.8L1122.1,684.4L1124.1,684.0L1126.0,683.5L1128.0,683.1L1129.9,682.6L1131.9,682.1L1133.8,681.7L1135.7,681.2L1137.7,680.7L1139.6,680.2L1141.6,679.7L1143.5,679.2L1145.4,678.6L1147.3,678.1L1149.3,677.5L1151.2,676.9L1153.1,676.3L1155.0,675.7L1156.9,675.1L1158.8,674.4L1160.7,673.7L1162.5,673.0L1164.4,672.3L1166.3,671.5L1168.1,670.8L1169.9,670.0L1171.8,669.2L1173.6,668.3L1175.4,667.5L1177.2,666.6L1179.0,665.8L1180.8,664.9L1182.6,664.0L1184.4,663.1L1186.2,662.1L1187.9,661.2L1189.7,660.2L1191.4,659.2L1193.2,658.2L1194.9,657.3L1196.6,656.2L1198.4,655.2L1200.1,654.2L1201.8,653.2L1203.5,652.1L1205.2,651.1L1206.9,650.0L1208.6,648.9L1210.3,647.9L1212.0,646.8L1213.6,645.7L1215.3,644.6L1217.0,643.5L1218.6,642.4L1220.3,641.3L1222.0,640.2L1223.6,639.0L1225.3,637.9L1227.0,636.8L1228.6,635.7L1230.3,634.5L1231.9,633.4L1233.6,632.3L1235.2,631.1L1236.9,630.0L1238.5,628.9L1240.2,627.8L1241.8,626.6L1243.5,625.5L1245.1,624.4L1246.8,623.2L1248.5,622.1L1250.1,621.0L1251.8,619.9L1253.4,618.8L1255.1,617.7L1256.8,616.5L1258.4,615.4L1260.1,614.3L1261.8,613.2L1263.5,612.2L1265.2,611.1L1266.8,610.0L1268.5,608.9L1270.2,607.9L1271.9,606.8L1273.6,605.8L1275.3,604.7L1277.1,603.7L1278.8,602.7L1280.5,601.6L1282.2,600.6L1284.0,599.6L1285.7,598.6L1287.5,597.7L1289.2,596.7L1291.0,595.8L1292.7,594.8L1294.5,593.9L1296.3,593.0L1298.1,592.1L1299.9,591.2L1301.7,590.3L1303.5,589.4L1305.3,588.6L1307.1,587.8L1308.9,586.9L1310.8,586.2L1312.6,585.4L1314.5,584.6L1316.3,583.9L1318.2,583.1L1320.1,582.4L1321.9,581.7L1323.8,581.1L1325.7,580.4L1327.6,579.8L1329.5,579.2L1331.4,578.6L1333.4,578.0L1335.3,577.5L1337.2,576.9L1339.2,576.5L1341.1,576.0L1343.1,575.6L1345.0,575.2L1347.0,574.9L1349.0,574.6L1351.0,574.3L1353.0,574.1L1355.0,574.0L1357.0,573.9L1359.0,573.8L1361.0,573.8L1363.0,573.9L1365.0,574.0L1367.0,574.2L1368.9,574.4L1370.9,574.7L1372.9,575.1L1374.9,575.5L1376.8,575.9L1378.8,576.4L1380.7,576.9L1382.6,577.4L1384.6,578.0L1386.5,578.5L1388.4,579.1L1390.3,579.8L1392.2,580.4L1394.1,581.0L1396.0,581.7L1397.9,582.3L1399.8,582.9L1401.7,583.6L1403.6,584.2L1405.5,584.9L1407.4,585.5L1409.3,586.1L1411.2,586.7L1413.1,587.2L1415.0,587.8L1417.0,588.3L1418.9,588.8L1420.9,589.3L1422.8,589.7L1424.8,590.1L1426.7,590.5L1428.7,590.8L1430.7,591.1L1432.7,591.3L1434.7,591.5L1436.7,591.6L1438.7,591.7L1440.7,591.7L1442.7,591.6L1444.7,591.4L1446.7,591.2L1448.6,590.8L1450.6,590.4L1452.5,589.9L1454.5,589.4L1456.3,588.7L1458.2,588.0L1460.0,587.2L1461.8,586.3L1463.6,585.4L1465.4,584.4L1467.1,583.3L1468.7,582.2L1470.4,581.1L1472.0,579.9L1473.5,578.6L1475.0,577.3L1476.5,575.9L1477.9,574.5L1479.3,573.1L1480.6,571.6L1481.9,570.1L1483.2,568.5L1484.4,566.9L1485.6,565.3L1486.7,563.6L1487.8,562.0L1488.9,560.3L1490.0,558.6L1491.0,556.9L1492.1,555.2L1493.1,553.5L1494.1,551.7L1495.1,550.0L1496.1,548.3L1497.1,546.5L1498.1,544.8L1499.1,543.1L1500.1,541.3L1501.2,539.6L1502.2,537.9L1503.3,536.2L1504.4,534.6L1505.6,532.9L1506.7,531.3L1507.9,529.7L1509.1,528.1L1510.4,526.6L1511.7,525.0L1513.1,523.6L1514.4,522.1L1515.9,520.7L1517.3,519.4L1518.8,518.0L1520.4,516.8L1522.0,515.5L1523.6,514.3L1525.2,513.2L1526.9,512.1L1528.6,511.0L1530.3,510.0L1532.1,509.1L1533.9,508.2L1535.7,507.4L1537.5,506.6L1539.4,505.9L1541.3,505.2L1543.2,504.6L1545.1,504.1L1547.1,503.6L1549.1,503.3L1551.0,503.0L1553.0,502.8L1555.0,502.7L1557.0,502.7L1559.0,502.9L1561.0,503.1L1563.0,503.6L1564.9,504.2L1566.7,504.9L1568.5,505.9L1570.2,507.0L1571.7,508.3L1573.1,509.7L1574.4,511.2L1575.7,512.8L1576.8,514.4L1577.8,516.1L1578.7,517.9L1579.6,519.7L1580.5,521.5L1581.2,523.4L1582.0,525.2L1582.6,527.1L1583.3,529.0L1583.9,530.9L1584.5,532.8L1585.1,534.8L1585.6,536.7L1586.2,538.6L1586.7,540.5L1587.2,542.5L1587.8,544.4L1588.3,546.3L1588.8,548.2L1589.4,550.2L1590.0,552.1L1590.6,554.0" fill="none" stroke="#0000ff" stroke-width="10" stroke-linejoin="round" stroke-linecap="butt"/>
</g>
<g id="legend">
<rect x="1105.3" y="722.2" width="249.2" height="394.5" fill="#ffffff" stroke="#262626" stroke-width="1.9"/>
<line x1="1118" y1="794" x2="1255" y2="794" stroke="#ff0000" stroke-width="10.5" stroke-dasharray="37 9 18 9"/>
<line x1="1118" y1="922" x2="1259" y2="922" stroke="#0000ff" stroke-width="10.5"/>
<circle cx="1187.7" cy="1049" r="14" fill="#00ff00"/>
<text transform="translate(1268,807.5) scale(1.03,1)" font-size="74.5" fill="#000000">u<tspan dy="35.5" font-size="59.6">s</tspan></text>
<text transform="translate(1268,935.5) scale(1.03,1)" font-size="74.5" fill="#000000">u<tspan dy="35.5" font-size="59.6">t</tspan></text>
<text transform="translate(1268,1063) scale(1.03,1)" font-size="74.5" fill="#000000">O<tspan dy="35.5" font-size="59.6">i</tspan></text>
</g>
<g id="labels">
<text transform="translate(276.0,384.0) scale(0.955,1)" font-size="88.3" text-anchor="end" fill="#262626">0.5</text>
<text transform="translate(278.3,633.5) scale(0.95,1)" font-size="88.3" text-anchor="end" fill="#262626">0</text>
<text transform="translate(278.3,883.0) scale(0.972,1)" font-size="88.3" text-anchor="end" fill="#262626">-0.5</text>
<text transform="translate(321.3,1009.3) scale(0.95,1)" font-size="88.3" text-anchor="middle" fill="#262626">3</text>
<text transform="translate(494.0,1091.5) scale(0.97,1)" font-size="88.3" text-anchor="middle" fill="#262626">2</text>
<text transform="translate(669.5,1176.3) scale(0.95,1)" font-size="88.3" text-anchor="middle" fill="#262626">1</text>
<text transform="translate(839.0,1260.0) scale(0.97,1)" font-size="88.3" text-anchor="middle" fill="#262626">0</text>
<text transform="translate(1131.0,1327.0) scale(0.95,1)" font-size="88.3" text-anchor="middle" fill="#262626">-4</text>
<text transform="translate(1475.5,1162.0) scale(0.975,1)" font-size="88.3" text-anchor="middle" fill="#262626">-2</text>
<text transform="translate(1803.5,993.5) scale(0.95,1)" font-size="88.3" text-anchor="middle" fill="#262626">0</text>
<text transform="translate(596.5,1356.7) scale(1.012,1)" font-size="91" text-anchor="middle" fill="#262626">y [m]</text>
<text transform="translate(1527.5,1356.7) scale(1.012,1)" font-size="91" text-anchor="middle" fill="#262626">x [m]</text>
<text transform="translate(91,621.5) rotate(-90) scale(1.012,1)" font-size="91" text-anchor="middle" fill="#262626">z [m]</text>
</g>
</svg>
</body>
</html>
